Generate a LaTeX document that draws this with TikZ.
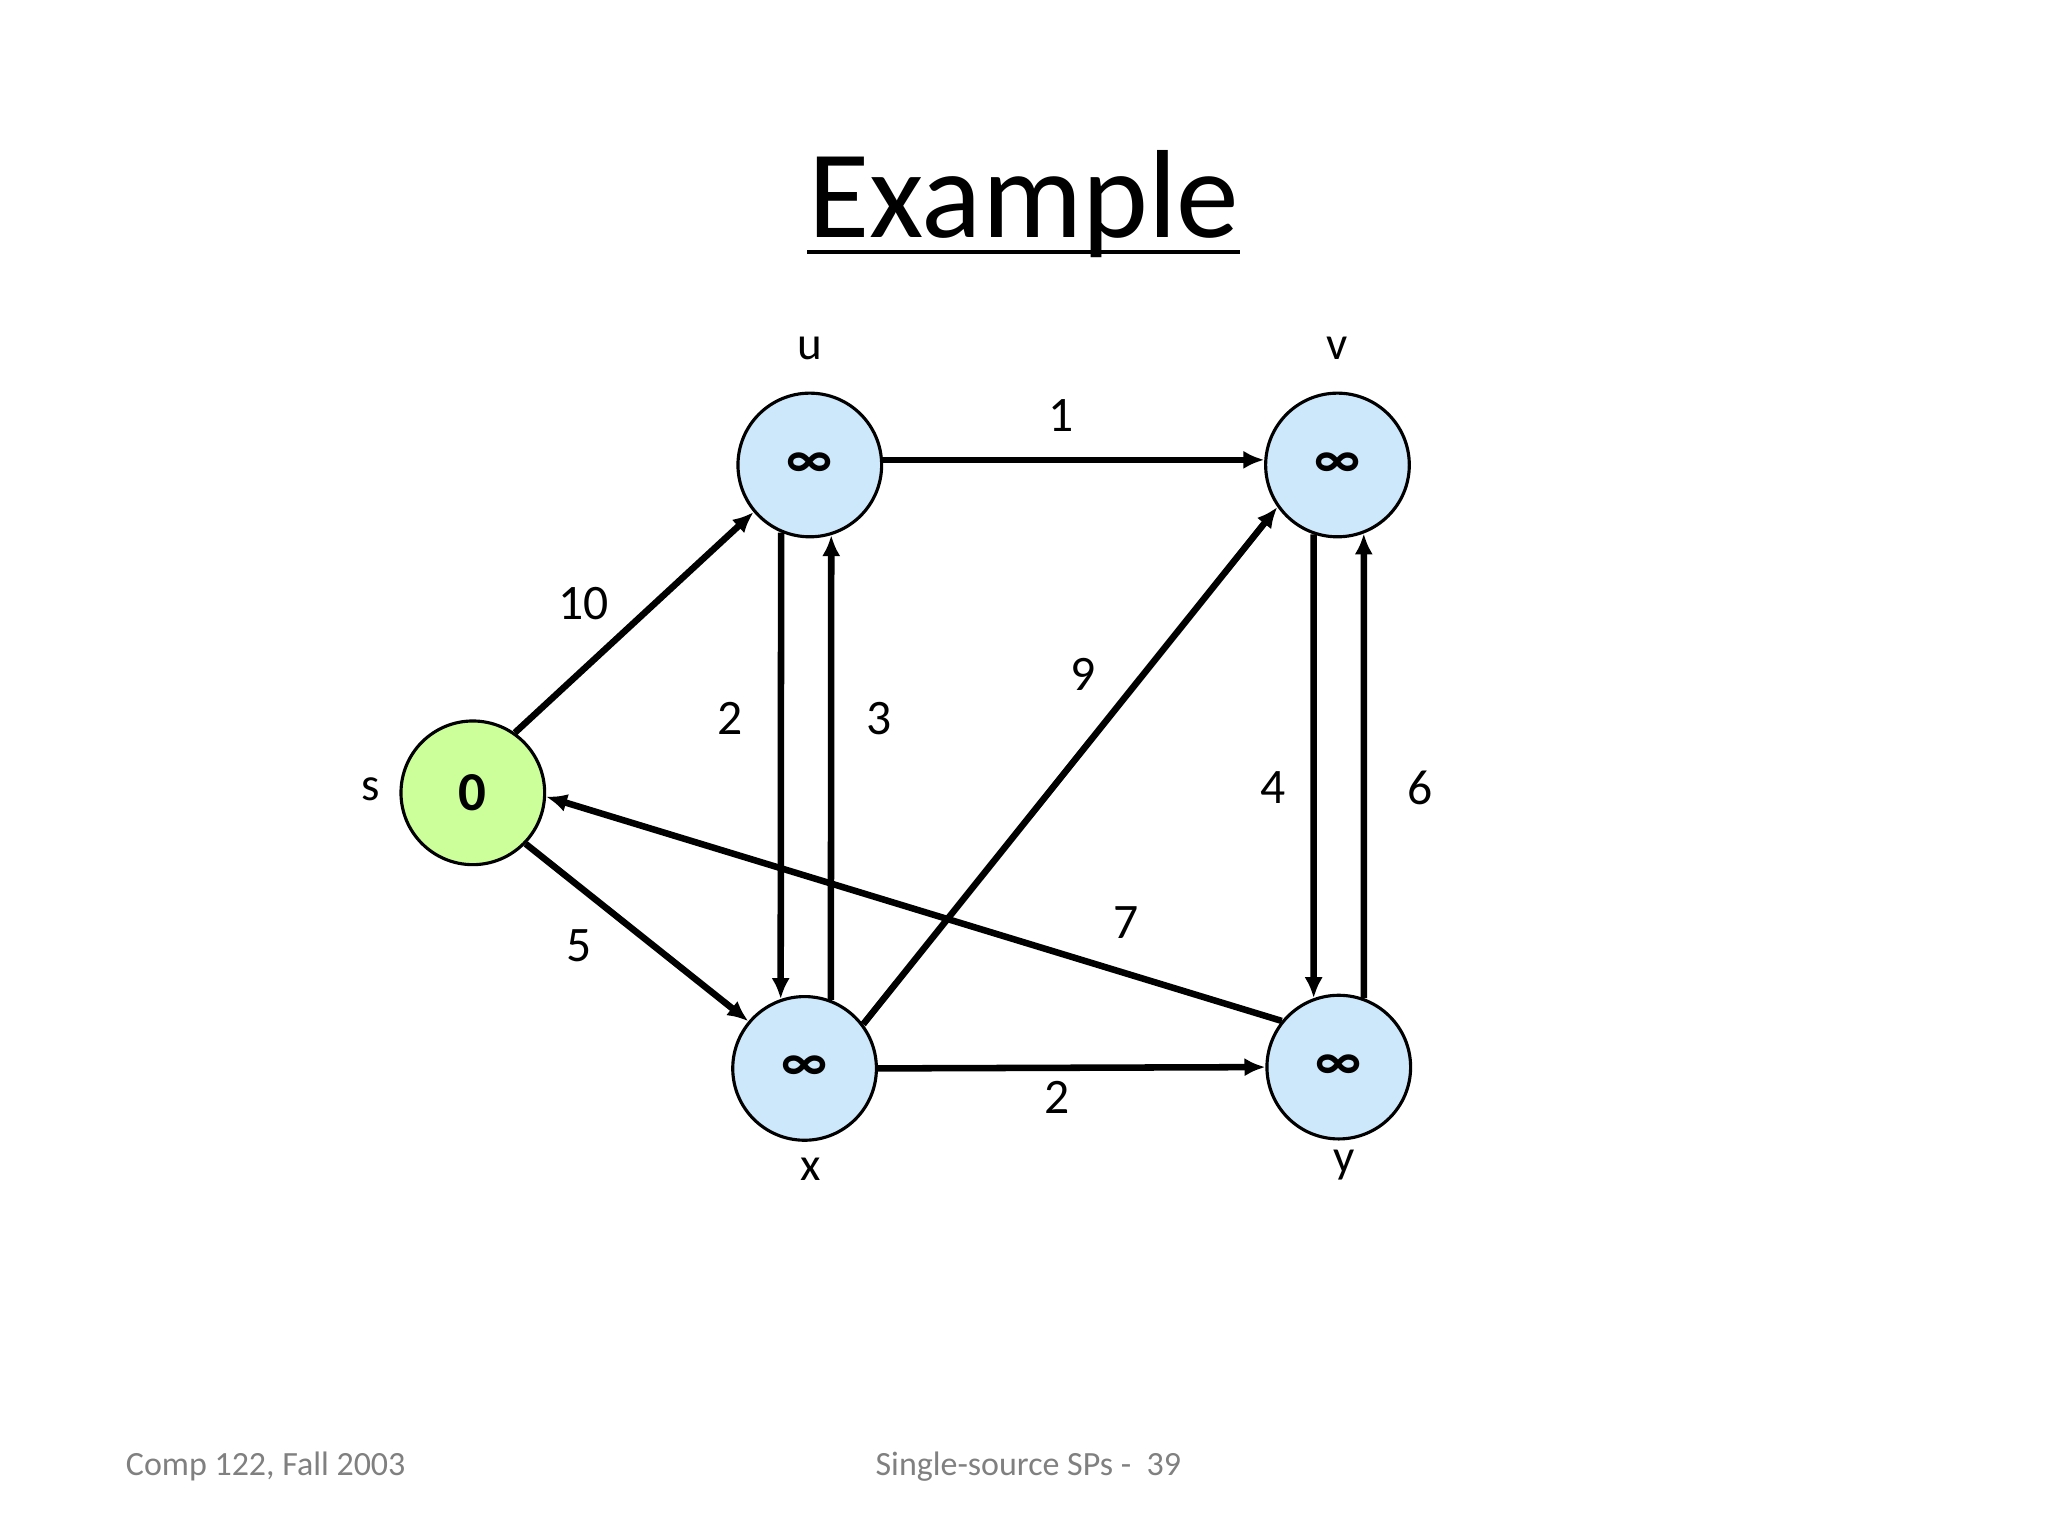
\documentclass[tikz,border=0pt]{standalone}
\usepackage{fontspec}
\setmainfont{Carlito}
\usetikzlibrary{arrows.meta}

\definecolor{srcgreen}{RGB}{204,255,153}
\definecolor{nodeblue}{RGB}{204,232,250}
\definecolor{footgrey}{RGB}{128,128,128}

\tikzset{every picture/.style={line width=0.75pt}}

\begin{document}
\begin{tikzpicture}[x=0.5pt,y=0.5pt,yscale=-1,xscale=1,
	vertex/.style={circle,draw,line width=1.2pt,minimum size=55pt,inner sep=0pt,fill=nodeblue,font=\fontsize{21}{24}\selectfont\bfseries},
	edge/.style={line width=2.5pt,-{Latex[length=8pt,width=7pt]}},
	wlabel/.style={font=\fontsize{19}{22}\selectfont},
	vname/.style={font=\fontsize{18}{21}\selectfont},
	footer/.style={anchor=west,text=footgrey,font=\fontsize{13}{16}\selectfont}]
	\useasboundingbox (0,0) rectangle (1568,1176);
	
	%Title
	\node (title) at (784,156) {\fontsize{48}{58}\selectfont Example};
	\draw [line width=1.6pt] (618,193) -- (949,193);
	
	%Vertices
	\node [vertex,fill=srcgreen] (s) at (362,607) {\raisebox{-1.5pt}{0}};
	\node [vertex] (u) at (620,356) {\raisebox{-2.5pt}{∞}};
	\node [vertex] (v) at (1024,356) {\raisebox{-2.5pt}{∞}};
	\node [vertex] (x) at (616,818) {\raisebox{-2.5pt}{∞}};
	\node [vertex] (y) at (1025,817) {\raisebox{-2.5pt}{∞}};
	
	%Vertex names
	\node [vname] (sname) at (284,604) {s};
	\node [vname] (uname) at (620,267) {u};
	\node [vname] (vname) at (1024,267) {v};
	\node [vname] (xname) at (621,895) {x};
	\node [vname] (yname) at (1029,892) {y};
	
	%Edges
	\draw [edge] (s.55) -- (u.220);
	\draw [edge] (s.-44) -- (x.140);
	\draw [edge] (u.4) -- (v.176);
	\draw [edge] (u.-113) -- (x.109);
	\draw [edge] (x.69) -- (u.-73);
	\draw [edge] (x.37) -- (v.215);
	\draw [edge] (v.-109) -- (y.110);
	\draw [edge] (y.70) -- (v.-69);
	\draw [edge] (y.141) -- (s.-3);
	\draw [edge] (x.east) -- (y.west);
	
	%Weights
	\node [wlabel] (w1) at (447,462) {10};
	\node [wlabel] (w2) at (443,724) {5};
	\node [wlabel] (w3) at (812,318) {1};
	\node [wlabel] (w4) at (559,550) {2};
	\node [wlabel] (w5) at (673,550) {3};
	\node [wlabel] (w6) at (829,516) {9};
	\node [wlabel] (w7) at (975,603) {4};
	\node [wlabel] (w8) at (1087,603) {6};
	\node [wlabel] (w9) at (862,706) {7};
	\node [wlabel] (w10) at (809,840) {2};
	
	%Footer
	\node [footer] (foot1) at (89,1123) {Comp 122, Fall 2003};
	\node [footer] (foot2) at (663,1123) {Single-source SPs -\ \ 39};
\end{tikzpicture}
\end{document}
